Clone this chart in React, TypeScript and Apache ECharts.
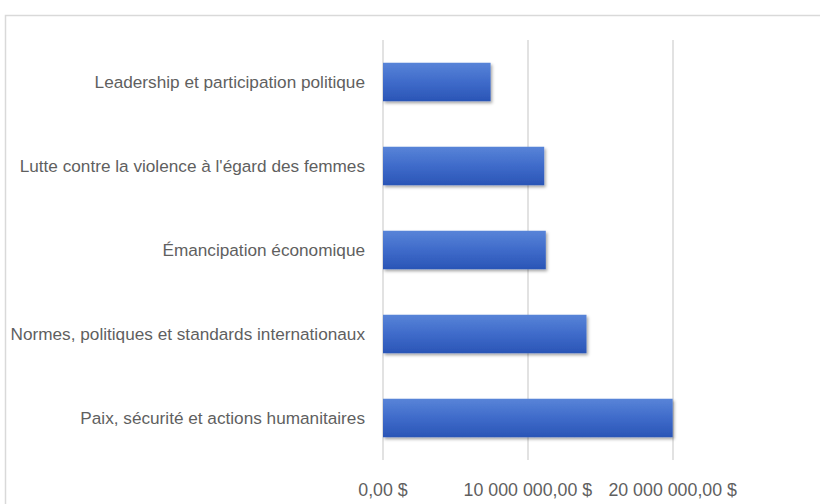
import React, { useEffect, useRef } from "react";
import * as echarts from "echarts";

const categories = [
  "Paix, sécurité et actions humanitaires",
  "Normes, politiques et standards internationaux",
  "Émancipation économique",
  "Lutte contre la violence à l'égard des femmes",
  "Leadership et participation politique",
];
const values = [20000000, 14050000, 11240000, 11130000, 7430000];
const axisMax = 30000000;
const axisInterval = 10000000;

function formatMoney(v: number): string {
  const s = Math.round(v).toString().replace(/\B(?=(\d{3})+(?!\d))/g, " ");
  return s + ",00 $";
}

export default function App() {
  const ref = useRef<HTMLDivElement>(null);
  useEffect(() => {
    if (!ref.current) return;
    const chart = echarts.init(ref.current, undefined, { renderer: "svg" });
    chart.setOption({
      animation: false,
      backgroundColor: "#ffffff",
      graphic: [
        {
          type: "rect",
          shape: { x: 5.5, y: 15.5, width: 900, height: 600 },
          style: { fill: "none", stroke: "#d9d9d9", lineWidth: 1.5 },
          silent: true,
        },
      ],
      grid: { left: 383, top: 40, width: 434.5, height: 420, containLabel: false },
      xAxis: {
        type: "value",
        min: 0,
        max: axisMax,
        interval: axisInterval,
        axisLine: { show: false },
        axisTick: { show: false },
        splitLine: { show: true, showMaxLine: false, lineStyle: { color: "#d9d9d9", width: 1.5 } },
        axisLabel: {
          showMaxLabel: false,
          margin: 21,
          color: "#5f5f5f",
          fontSize: 17.8,
          fontFamily: "Liberation Sans, Arial, sans-serif",
          formatter: (v: number) => formatMoney(v),
        },
      },
      yAxis: {
        type: "category",
        data: categories,
        axisLine: { show: false },
        axisTick: { show: false },
        axisLabel: {
          margin: 18,
          color: "#5f5f5f",
          fontSize: 17.2,
          fontFamily: "Liberation Sans, Arial, sans-serif",
        },
      },
      series: [
        {
          type: "bar",
          data: values,
          barCategoryGap: "54%",
          itemStyle: {
            color: new echarts.graphic.LinearGradient(0, 0, 0, 1, [
              { offset: 0, color: "#5884d8" },
              { offset: 0.5, color: "#3f6bca" },
              { offset: 1, color: "#2a55b6" },
            ]),
            shadowColor: "rgba(0,0,0,0.35)",
            shadowBlur: 3,
            shadowOffsetX: 1.5,
            shadowOffsetY: 2,
          },
        },
      ],
    });
    return () => chart.dispose();
  }, []);
  return (
    <div
      ref={ref}
      style={{ position: "absolute", left: 0, top: 0, width: 820, height: 504 }}
    />
  );
}
